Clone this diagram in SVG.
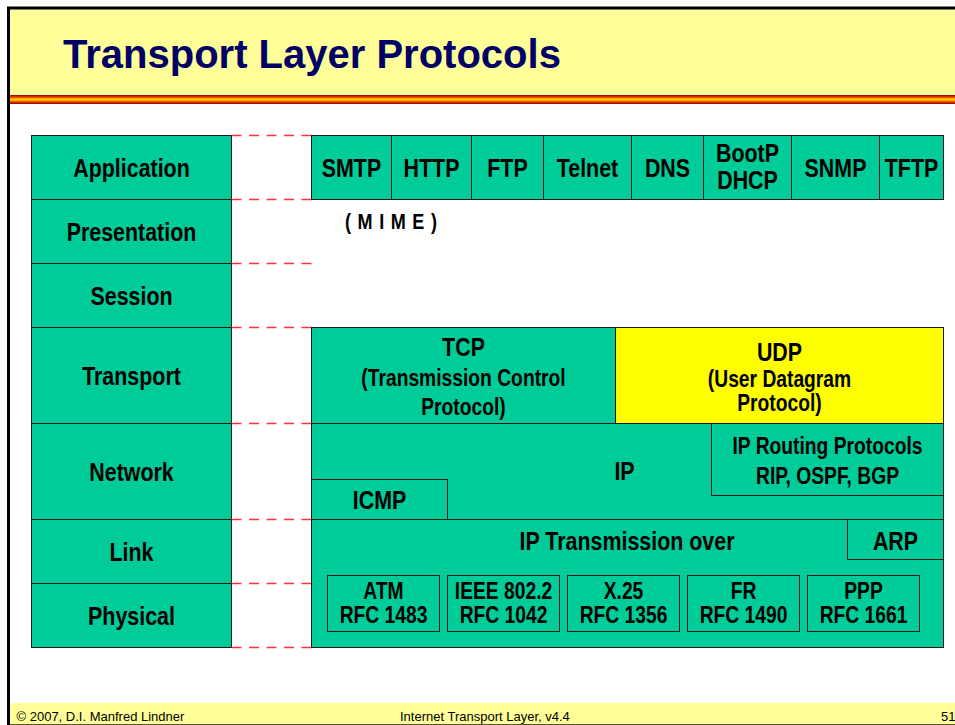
<svg xmlns="http://www.w3.org/2000/svg" width="955" height="725" viewBox="0 0 955 725">
<defs>
<linearGradient id="stripe" x1="0" y1="0" x2="0" y2="1">
<stop offset="0" stop-color="#8B0000"/>
<stop offset="0.2" stop-color="#E03000"/>
<stop offset="0.4" stop-color="#FFA000"/>
<stop offset="0.5" stop-color="#FFE000"/>
<stop offset="0.6" stop-color="#FFA000"/>
<stop offset="0.8" stop-color="#E03000"/>
<stop offset="1" stop-color="#8B0000"/>
</linearGradient>
<style>
.g{fill:#00CC99;stroke:#1a1a1a;stroke-width:1}
.y{fill:#FFFF00;stroke:#1a1a1a;stroke-width:1}
.t{font-family:"Liberation Sans",Arial,sans-serif;font-weight:bold;font-size:25.5px;text-anchor:middle;fill:#000}
.s{font-size:23.5px}
.dash{stroke:#FF3333;stroke-width:1.3;stroke-dasharray:10 7.5;fill:none}
.foot{font-family:"Liberation Sans",Arial,sans-serif;font-size:13px;fill:#000}
</style>
</defs>
<rect width="955" height="725" fill="#fff"/>
<g id="frame">
<rect x="9" y="8" width="946" height="87" fill="#FFFF99"/>
<rect x="9" y="95" width="946" height="9" fill="url(#stripe)"/>
<rect x="10" y="703" width="945" height="22" fill="#FFFF99"/>
<line x1="9" y1="724.5" x2="955" y2="724.5" stroke="#555533" stroke-width="1"/>
<line x1="7" y1="8" x2="955" y2="8" stroke="#000" stroke-width="3"/>
<line x1="8.5" y1="7" x2="8.5" y2="725" stroke="#000" stroke-width="3"/>
<text x="63" y="68" font-family="'Liberation Sans',Arial,sans-serif" font-weight="bold" font-size="40" fill="#000066">Transport Layer Protocols</text>
<text class="foot" x="16.5" y="721">© 2007, D.I. Manfred Lindner</text>
<text class="foot" x="400" y="721">Internet Transport Layer, v4.4</text>
<text class="foot" x="941" y="721" font-size="16">51</text>
</g>
<g id="layers">
<g id="l-application"><rect class="g" x="31.5" y="135.5" width="200" height="64"/><text class="t" transform="translate(131.5 176.5) scale(.84 1)">Application</text></g>
<g id="l-presentation"><rect class="g" x="31.5" y="199.5" width="200" height="64"/><text class="t" transform="translate(131.5 240.5) scale(.84 1)">Presentation</text></g>
<g id="l-session"><rect class="g" x="31.5" y="263.5" width="200" height="64"/><text class="t" transform="translate(131.5 304.5) scale(.84 1)">Session</text></g>
<g id="l-transport"><rect class="g" x="31.5" y="327.5" width="200" height="96"/><text class="t" transform="translate(131.5 384.5) scale(.84 1)">Transport</text></g>
<g id="l-network"><rect class="g" x="31.5" y="423.5" width="200" height="96"/><text class="t" transform="translate(131.5 480.5) scale(.84 1)">Network</text></g>
<g id="l-link"><rect class="g" x="31.5" y="519.5" width="200" height="64"/><text class="t" transform="translate(131.5 560.5) scale(.84 1)">Link</text></g>
<g id="l-physical"><rect class="g" x="31.5" y="583.5" width="200" height="64"/><text class="t" transform="translate(131.5 624.5) scale(.84 1)">Physical</text></g>
</g>
<g id="connectors">
<line class="dash" x1="231.5" y1="135.5" x2="311.5" y2="135.5"/>
<line class="dash" x1="231.5" y1="199.5" x2="311.5" y2="199.5"/>
<line class="dash" x1="231.5" y1="263.5" x2="311.5" y2="263.5"/>
<line class="dash" x1="231.5" y1="327.5" x2="311.5" y2="327.5"/>
<line class="dash" x1="231.5" y1="423.5" x2="311.5" y2="423.5"/>
<line class="dash" x1="231.5" y1="519.5" x2="311.5" y2="519.5"/>
<line class="dash" x1="231.5" y1="583.5" x2="311.5" y2="583.5"/>
<line class="dash" x1="231.5" y1="647.5" x2="311.5" y2="647.5"/>
</g>
<g id="application-protocols">
<g id="smtp"><rect class="g" x="311.5" y="135.5" width="80" height="64"/><text class="t" transform="translate(351.5 176.5) scale(.84 1)">SMTP</text></g>
<g id="http"><rect class="g" x="391.5" y="135.5" width="80" height="64"/><text class="t" transform="translate(431.5 176.5) scale(.84 1)">HTTP</text></g>
<g id="ftp"><rect class="g" x="471.5" y="135.5" width="72" height="64"/><text class="t" transform="translate(507.5 176.5) scale(.84 1)">FTP</text></g>
<g id="telnet"><rect class="g" x="543.5" y="135.5" width="88" height="64"/><text class="t" transform="translate(587.5 176.5) scale(.84 1)">Telnet</text></g>
<g id="dns"><rect class="g" x="631.5" y="135.5" width="72" height="64"/><text class="t" transform="translate(667.5 176.5) scale(.84 1)">DNS</text></g>
<g id="bootp"><rect class="g" x="703.5" y="135.5" width="88" height="64"/><text class="t" transform="translate(747.5 161.5) scale(.84 1)">BootP</text><text class="t" transform="translate(747.5 188.5) scale(.84 1)">DHCP</text></g>
<g id="snmp"><rect class="g" x="791.5" y="135.5" width="88" height="64"/><text class="t" transform="translate(835.5 176.5) scale(.84 1)">SNMP</text></g>
<g id="tftp"><rect class="g" x="879.5" y="135.5" width="64" height="64"/><text class="t" transform="translate(911.5 176.5) scale(.84 1)">TFTP</text></g>
</g>
<g id="mime"><text class="t" transform="translate(345 229) scale(.82 1)" style="text-anchor:start;letter-spacing:8px;font-size:22px">(MIME)</text></g>
<g id="tcp"><rect class="g" x="311.5" y="327.5" width="304" height="96"/><text class="t" transform="translate(463.5 356) scale(.84 1)">TCP</text><text class="t s" transform="translate(463.5 386) scale(.82 1)">(Transmission Control</text><text class="t s" transform="translate(463.5 415) scale(.82 1)">Protocol)</text></g>
<g id="udp"><rect class="y" x="615.5" y="327.5" width="328" height="96"/><text class="t" transform="translate(779.5 360.5) scale(.84 1)">UDP</text><text class="t s" transform="translate(779.5 387) scale(.82 1)">(User Datagram</text><text class="t s" transform="translate(779.5 411) scale(.82 1)">Protocol)</text></g>
<g id="ip"><rect class="g" x="311.5" y="423.5" width="632" height="96"/><text class="t" transform="translate(624.5 480) scale(.84 1)">IP</text></g>
<g id="icmp"><rect class="g" x="311.5" y="479.5" width="136" height="40"/><text class="t" transform="translate(379.5 509) scale(.84 1)">ICMP</text></g>
<g id="routing"><rect class="g" x="711.5" y="423.5" width="232" height="72"/><text class="t s" transform="translate(827.5 453.5) scale(.82 1)">IP Routing Protocols</text><text class="t s" transform="translate(827.5 483.5) scale(.82 1)">RIP, OSPF, BGP</text></g>
<g id="ip-transmission"><rect class="g" x="311.5" y="519.5" width="632" height="128"/><text class="t" transform="translate(627 550) scale(.84 1)">IP Transmission over</text></g>
<g id="arp"><rect class="g" x="847.5" y="519.5" width="96" height="40"/><text class="t" transform="translate(895.5 549.5) scale(.84 1)">ARP</text></g>
<g id="atm"><rect class="g" x="327.5" y="575.5" width="112" height="56"/><text class="t s" transform="translate(383.5 598.5) scale(.82 1)">ATM</text><text class="t s" transform="translate(383.5 622.5) scale(.82 1)">RFC 1483</text></g>
<g id="ieee"><rect class="g" x="447.5" y="575.5" width="112" height="56"/><text class="t s" transform="translate(503.5 598.5) scale(.82 1)">IEEE 802.2</text><text class="t s" transform="translate(503.5 622.5) scale(.82 1)">RFC 1042</text></g>
<g id="x25"><rect class="g" x="567.5" y="575.5" width="112" height="56"/><text class="t s" transform="translate(623.5 598.5) scale(.82 1)">X.25</text><text class="t s" transform="translate(623.5 622.5) scale(.82 1)">RFC 1356</text></g>
<g id="fr"><rect class="g" x="687.5" y="575.5" width="112" height="56"/><text class="t s" transform="translate(743.5 598.5) scale(.82 1)">FR</text><text class="t s" transform="translate(743.5 622.5) scale(.82 1)">RFC 1490</text></g>
<g id="ppp"><rect class="g" x="807.5" y="575.5" width="112" height="56"/><text class="t s" transform="translate(863.5 598.5) scale(.82 1)">PPP</text><text class="t s" transform="translate(863.5 622.5) scale(.82 1)">RFC 1661</text></g>
</svg>
